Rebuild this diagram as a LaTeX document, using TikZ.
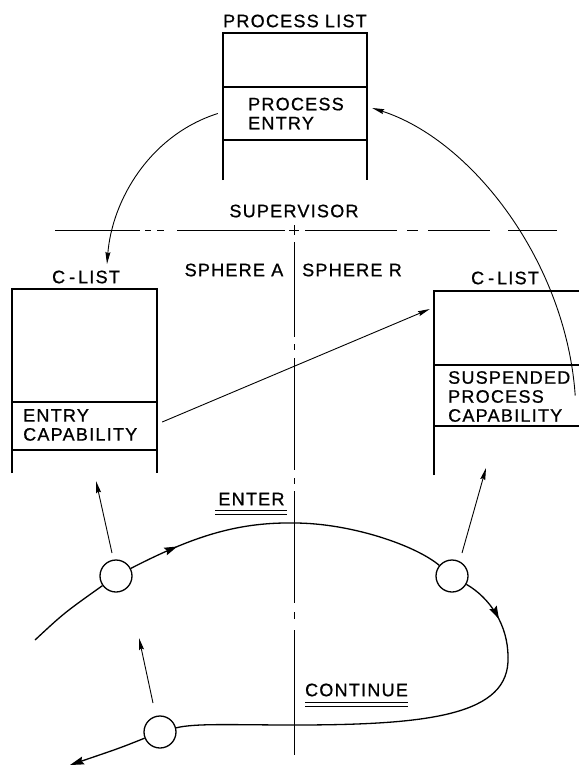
\documentclass[tikz,border=0pt]{standalone}
\usepackage{fontspec}
\setmainfont[LetterSpace=7,FakeBold=0.8]{Liberation Sans}
\usetikzlibrary{arrows.meta,decorations.markings}
\begin{document}
\begin{tikzpicture}[x=1pt,y=-1pt,
  boxline/.style={line width=1.6pt},
  flow/.style={line width=1.3pt},
  conn/.style={line width=0.9pt,-{Stealth[length=12pt,width=5pt,inset=1.5pt]}},
  txt/.style={font=\fontsize{18}{19}\selectfont, inner sep=0pt, align=left},
  cellbox/.style={draw=none, inner sep=0pt, minimum width=#1},
  port/.style={circle, draw, line width=1.3pt, minimum size=32pt, inner sep=0pt},
  midarrow/.style={postaction={decorate}, decoration={markings,
      mark=at position #1 with {\arrow{Stealth[length=13pt,width=8pt,inset=2pt]}}}},
  sep/.style={line width=1pt}
]
\useasboundingbox (0,0) rectangle (579,766);

% ---- process list
\draw[boxline] (223,180) -- (223,33) -- (367,33) -- (367,180);
\draw[boxline] (223,87) -- (367,87) (223,140) -- (367,140);
\node[txt] (plt) at (295,21) {PROCESS LIST};
\node[cellbox=144pt, minimum height=53pt] (pecell) at (295,113.5) {};
\node[txt, anchor=west] (pe) at (248,113.5) {PROCESS\\ENTRY};

% ---- supervisor line and sphere divider
\node[txt] (sup) at (294,211) {SUPERVISOR};
\foreach \a/\b in {55/140,145/151,157/164,177/285,289/299,305/397,407/418,428/490,508/557}
  \draw[sep] (\a,230) -- (\b,230);
\foreach \a/\b in {225/235,242/337,344/350,358/470,478/484,491/603,612/619,630/755}
  \draw[sep] (294,\a) -- (294,\b);
\node[txt] (spa) at (234,270) {SPHERE A};
\node[txt] (spr) at (352,270) {SPHERE R};

% ---- left C-list
\node[txt] (cl1) at (86,277) {C\kern4pt-\kern3pt LIST};
\draw[boxline] (12,473) -- (12,289) -- (157,289) -- (157,473);
\draw[boxline] (12,402) -- (157,402) (12,450) -- (157,450);
\node[cellbox=145pt, minimum height=48pt] (eccell) at (84.5,426) {};
\node[txt, anchor=west] (ec) at (23,425) {ENTRY\\CAPABILITY};

% ---- right C-list
\node[txt] (cl2) at (505,278) {C\kern4pt-\kern3pt LIST};
\draw[boxline] (434,475) -- (434,291) -- (579,291);
\draw[boxline] (434,365) -- (579,365) (434,426) -- (579,426);
\node[cellbox=145pt, minimum height=74pt] (rc1) at (506.5,328) {};
\node[cellbox=145pt, minimum height=61pt] (rc2) at (506.5,395.5) {};
\node[txt, anchor=west] (spc) at (448,396.5) {SUSPENDED\\PROCESS\\CAPABILITY};

% ---- connectors between lists
\coordinate (t1) at (107,264);
\draw[conn] ([shift={(-5,0)}]pecell.west) .. controls (150,135) and (112,200) .. (t1);
\draw[conn] ([shift={(-4,0)}]rc2.east) .. controls (566,262) and (472,140) .. ([shift={(5,-5.5)}]pecell.east);
\draw[conn] ([shift={(5,-4)}]eccell.east) -- ([shift={(-4,-19)}]rc1.west);

% ---- control flow
\node[port] (cA) at (116,576) {};
\node[port] (cB) at (452,576) {};
\node[port] (cC) at (160,732) {};
\coordinate (s0) at (35,640);
\coordinate (pk) at (294,523);
\coordinate (rt) at (508,657);
\coordinate (bt) at (294,725);
\coordinate (e0) at (70,765);
\draw[flow] (s0) .. controls (64,613) .. (cA);
\draw[flow, midarrow=0.3] (cA) .. controls (190,538) and (235,522) .. (pk);
\draw[flow] (pk) .. controls (350,523) and (415,545) .. (cB);
\draw[flow, midarrow=0.55] (cB) .. controls (490,598) and (508,625) .. (rt);
\draw[flow] (rt) .. controls (510,715) and (430,725) .. (bt);
\draw[flow] (bt) .. controls (235,725) and (195,723) .. (cC);
\draw[flow, -{Stealth[length=14pt,width=8pt,inset=2pt]}] (cC) .. controls (120,748) .. (e0);

% ---- small arrows from ports
\coordinate (u1s) at (112,553); \coordinate (u1t) at (96,481);
\coordinate (u2s) at (462,553); \coordinate (u2t) at (486,468);
\coordinate (u3s) at (153,703); \coordinate (u3t) at (139,638);
\draw[conn] (u1s) -- (u1t);
\draw[conn] (u2s) -- (u2t);
\draw[conn] (u3s) -- (u3t);

% ---- labels
\node[txt] (ent) at (251.5,499) {ENTER};
\draw[line width=0.9pt] (215,510) -- (287,510) (215,514) -- (287,514);
\node[txt] (cont) at (356.5,690) {CONTINUE};
\draw[line width=0.9pt] (305,702) -- (408,702) (305,706) -- (408,706);
\end{tikzpicture}
\end{document}
